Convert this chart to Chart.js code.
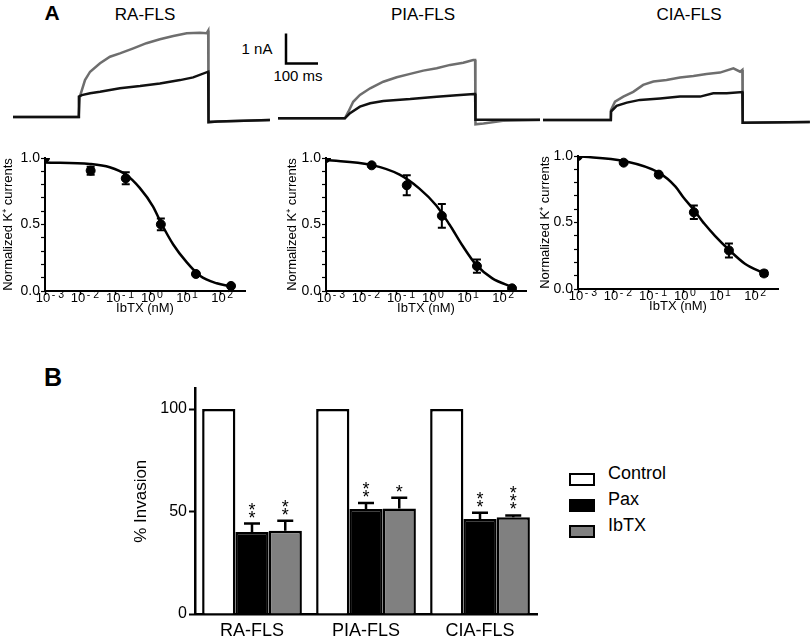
<!DOCTYPE html>
<html>
<head>
<meta charset="utf-8">
<script src="https://cdn.jsdelivr.net/npm/chart.js@4.4.1/dist/chart.umd.min.js"></script>
<style>
  body { margin: 0; background: #fff; }
  #wrap { position: relative; width: 810px; height: 637px; overflow: hidden; font-family: "Liberation Sans", Arial, sans-serif; color: #000; }
  canvas { position: absolute; }
  .lbl { position: absolute; white-space: nowrap; line-height: 1; transform: translate(-50%, -50%); }
  .leg { position: absolute; left: 569px; font-size: 18px; }
  .leg span.box { position: absolute; left: 0; width: 22px; height: 9px; border: 2.5px solid #000; }
  .leg span.txt { position: absolute; left: 39px; top: -9px; line-height: 18px; }
</style>
</head>
<body>
<div id="wrap">
  <div class="lbl" style="left:52px;top:12px;font-weight:bold;font-size:21px">A</div>
  <div class="lbl" style="left:145px;top:14px;font-size:17px">RA-FLS</div>
  <div class="lbl" style="left:423px;top:14px;font-size:17px">PIA-FLS</div>
  <div class="lbl" style="left:689px;top:14px;font-size:17px">CIA-FLS</div>
  <div class="lbl" style="left:257px;top:48px;font-size:15px">1 nA</div>
  <div class="lbl" style="left:298px;top:75px;font-size:15px">100 ms</div>
  <div class="lbl" style="left:53px;top:377px;font-weight:bold;font-size:25px">B</div>

  <canvas id="trace1" width="272" height="135" style="left:0;top:0"></canvas>
  <canvas id="trace2" width="268" height="135" style="left:272px;top:0"></canvas>
  <canvas id="trace3" width="270" height="135" style="left:540px;top:0"></canvas>

  <canvas id="dose1" width="265" height="180" style="left:0;top:140px"></canvas>
  <canvas id="dose2" width="265" height="180" style="left:281px;top:140px"></canvas>
  <canvas id="dose3" width="265" height="180" style="left:533px;top:138px"></canvas>

  <canvas id="bars" width="420" height="267" style="left:124px;top:370px"></canvas>
  <div id="legend"></div>
</div>

<script>
// ---- datos: trazos de corriente (ms, nA) ----
const raCtrlT = [0, 205, 209, 225, 241, 272, 303, 334, 376, 417, 459, 501, 543, 584, 605, 610, 611, 640, 803];
const raCtrlI = [0, 0, 0.68, 1.23, 1.51, 1.79, 2.01, 2.12, 2.29, 2.46, 2.59, 2.70, 2.79, 2.81, 2.79, 2.88, -0.17, -0.15, -0.1];
const raIbtxT = [0, 205, 206, 215, 241, 272, 334, 397, 459, 522, 563, 610, 611, 640, 803];
const raIbtxI = [0, 0, 0.68, 0.73, 0.79, 0.84, 0.96, 1.03, 1.12, 1.23, 1.32, 1.51, -0.17, -0.15, -0.1];

const piaCtrlT = [0, 209, 220, 235, 256, 288, 329, 371, 413, 454, 496, 538, 579, 610, 616, 617, 642, 703, 819];
const piaCtrlI = [0, 0, 0.22, 0.55, 0.78, 1.0, 1.22, 1.37, 1.48, 1.59, 1.67, 1.78, 1.85, 1.94, 1.94, -0.2, -0.17, -0.08, -0.06];
const piaIbtxT = [0, 209, 225, 256, 288, 329, 413, 496, 558, 613, 616, 617, 819];
const piaIbtxI = [0, 0, 0.17, 0.39, 0.5, 0.58, 0.64, 0.72, 0.77, 0.81, 0.81, -0.05, -0.05];

const ciaCtrlT = [0, 212, 212.5, 225, 251, 282, 313, 345, 386, 428, 470, 511, 553, 595, 616, 623, 624, 834];
const ciaCtrlI = [0, 0, 0.33, 0.61, 0.78, 0.94, 1.17, 1.28, 1.33, 1.42, 1.47, 1.53, 1.58, 1.72, 1.61, 1.67, -0.09, -0.07];
const ciaIbtxT = [0, 212, 212.5, 230, 262, 303, 366, 428, 491, 532, 574, 623, 624, 834];
const ciaIbtxI = [0, 0, 0.28, 0.47, 0.58, 0.67, 0.72, 0.78, 0.78, 0.89, 0.89, 0.93, -0.09, -0.07];

// barra de escala
const scaleBarNA = 1;
const scaleBarMs = 100;

// ---- datos: curvas dosis-respuesta IbTX (nM) ----
const conc = [0.001, 0.02, 0.2, 2, 20, 200];
const raMean = [1.0, 0.905, 0.847, 0.501, 0.128, 0.038];
const raSem = [0, 0.03, 0.045, 0.044, 0.01, 0.008];
const piaMean = [1.0, 0.945, 0.795, 0.565, 0.1875, 0.02];
const piaSem = [0, 0.008, 0.075, 0.09, 0.05, 0.01];
const ciaMean = [1.0, 0.95, 0.86, 0.577, 0.29, 0.117];
const ciaSem = [0, 0.01, 0.01, 0.05, 0.053, 0.02];

const raFitX = [0.001, 0.019, 0.07, 0.21, 0.5, 1.2, 2, 4.5, 11, 26, 78, 200];
const raFitY = [0.967, 0.955, 0.93, 0.872, 0.775, 0.635, 0.515, 0.35, 0.215, 0.115, 0.058, 0.035];
const piaFitX = [0.001, 0.018, 0.125, 0.46, 1.37, 3.3, 7.8, 18.6, 55, 200];
const piaFitY = [0.985, 0.95, 0.875, 0.77, 0.645, 0.5, 0.34, 0.2, 0.095, 0.03];
const ciaFitX = [0.001, 0.02, 0.2, 0.6, 1.0, 2, 4, 8, 20, 57, 200];
const ciaFitY = [0.998, 0.963, 0.875, 0.77, 0.69, 0.595, 0.49, 0.40, 0.295, 0.19, 0.118];

const decades = [-3, -2, -1, 0, 1, 2];

// ---- datos: invasion ----
const groups = ["RA-FLS", "PIA-FLS", "CIA-FLS"];
const control = [100, 100, 100];
const pax = [40, 51.2, 46.3];
const paxErr = [4.1, 2.9, 3.1];
const ibtx = [40.6, 51.5, 47.2];
const ibtxErr = [4.9, 5.2, 0.9];
const paxStars = ["**", "**", "**"];
const ibtxStars = ["**", "*", "***"];

Chart.defaults.font.family = "'Liberation Sans', Arial, sans-serif";
Chart.defaults.color = "#000";

const pts = (xs, ys) => xs.map((x, i) => ({ x: x, y: ys[i] }));

// ---------- trazos ----------
const pxPerMs = 0.32;
const pxPerNA = 30;

const creaTrazo = (id, width, t0px, basePx, datasets) => {
  new Chart(document.getElementById(id), {
    type: "line",
    data: { datasets: datasets },
    options: {
      responsive: false,
      animation: false,
      layout: { padding: 0 },
      plugins: { legend: { display: false }, tooltip: { enabled: false } },
      elements: { point: { radius: 0 }, line: { tension: 0 } },
      scales: {
        x: { type: "linear", display: false, min: -t0px / pxPerMs, max: (width - t0px) / pxPerMs },
        y: { type: "linear", display: false, min: -(135 - basePx) / pxPerNA, max: basePx / pxPerNA },
      },
    },
  });
};

const traza = (t, i, color, w) => ({
  data: pts(t, i), borderColor: color, borderWidth: w, fill: false,
});

creaTrazo("trace1", 272, 13, 117, [
  traza(raIbtxT, raIbtxI, "#111", 2.5),
  traza(raCtrlT, raCtrlI, "#6e6e6e", 2.5),
]);
creaTrazo("trace2", 268, 6, 118.3, [
  traza(piaIbtxT, piaIbtxI, "#111", 2.5),
  traza(piaCtrlT, piaCtrlI, "#6e6e6e", 2.5),
  {
    // barra de escala 1 nA / 100 ms
    data: [{ x: 25, y: 1.83 + scaleBarNA }, { x: 25, y: 1.83 }, { x: 25 + scaleBarMs, y: 1.83 }],
    borderColor: "#000", borderWidth: 2.5, fill: false,
  },
]);
creaTrazo("trace3", 270, 3, 120, [
  traza(ciaIbtxT, ciaIbtxI, "#111", 2.5),
  traza(ciaCtrlT, ciaCtrlI, "#6e6e6e", 2.5),
]);

// ---------- barras de error ----------
const errorBars = {
  id: "errorBars",
  afterDatasetsDraw(chart) {
    const ctx = chart.ctx;
    const ys = chart.scales.y;
    chart.data.datasets.forEach((ds, i) => {
      if (!ds.errors) return;
      const meta = chart.getDatasetMeta(i);
      meta.data.forEach((el, j) => {
        const e = ds.errors[j];
        if (!e) return;
        const raw = ds.data[j];
        const v = typeof raw === "object" ? raw.y : raw;
        const top = ys.getPixelForValue(v + e);
        const bot = ds.upOnly ? el.y : ys.getPixelForValue(v - e);
        const cap = ds.capHalf || 4;
        ctx.save();
        ctx.strokeStyle = "#000";
        ctx.lineWidth = ds.errWidth || 2;
        ctx.beginPath();
        ctx.moveTo(el.x, bot); ctx.lineTo(el.x, top);
        ctx.moveTo(el.x - cap, top); ctx.lineTo(el.x + cap, top);
        if (!ds.upOnly) { ctx.moveTo(el.x - cap, bot); ctx.lineTo(el.x + cap, bot); }
        ctx.stroke();
        if (ds.stars) {
          ctx.fillStyle = "#000";
          ctx.font = "18px 'Liberation Sans'";
          ctx.textAlign = "center";
          ctx.textBaseline = "alphabetic";
          const n = ds.stars[j].length;
          for (let k = 0; k < n; k++) {
            ctx.fillText("*", el.x, top - k * 8);
          }
        }
        ctx.restore();
      });
    });
  },
};

// etiquetas 10^n del eje log
const potencias = {
  id: "potencias",
  afterDraw(chart) {
    const ctx = chart.ctx;
    const xs = chart.scales.x;
    ctx.save();
    ctx.fillStyle = "#000";
    ctx.textBaseline = "alphabetic";
    decades.forEach((d) => {
      const px = xs.getPixelForValue(Math.pow(10, d)) - 2;
      const y = xs.top + 11;
      ctx.font = "13px 'Liberation Sans'";
      ctx.textAlign = "center";
      ctx.fillText("10", px, y);
      const w = ctx.measureText("10").width;
      ctx.font = "10.5px 'Liberation Sans'";
      ctx.textAlign = "left";
      ctx.fillText(d < 0 ? "- " + (-d) : String(d), px + w / 2 + 1.5, y - 4.5);
    });
    ctx.restore();
  },
};

// ---------- dosis-respuesta ----------
const creaDosis = (id, mean, sem, fitX, fitY, titlePad) => {
  new Chart(document.getElementById(id), {
    type: "scatter",
    data: {
      datasets: [
        {
          data: pts(conc, mean), errors: sem, capHalf: 4,
          backgroundColor: "#000", borderColor: "#000", pointRadius: 4.5, showLine: false,
        },
        {
          data: pts(fitX, fitY), showLine: true, pointRadius: 0,
          borderColor: "#000", borderWidth: 2.5, cubicInterpolationMode: "monotone",
        },
      ],
    },
    options: {
      responsive: false,
      animation: false,
      layout: { padding: { top: 18, right: 20, bottom: 4, left: 0 } },
      plugins: { legend: { display: false }, tooltip: { enabled: false } },
      scales: {
        x: {
          type: "logarithmic", min: 0.001, max: 500,
          afterBuildTicks: (s) => { s.ticks = decades.map((d) => ({ value: Math.pow(10, d) })); },
          afterFit: (s) => { s.height = 25; },
          ticks: { callback: () => "", autoSkip: false },
          grid: { drawOnChartArea: false, tickLength: 4, tickColor: "#000", tickWidth: 1.5 },
          border: { color: "#000", width: 2 },
          title: { display: true, text: "IbTX (nM)", font: { size: 13 }, padding: 0 },
        },
        y: {
          min: 0, max: 1,
          ticks: {
            stepSize: 0.1, padding: 1, font: { size: 14 }, autoSkip: false,
            callback: (v) => (Math.abs(v * 2 - Math.round(v * 2)) < 1e-6 ? v.toFixed(1) : ""),
          },
          afterFit: (s) => { s.width = 45; },
          grid: { drawOnChartArea: false, tickLength: 4, tickColor: "#000", tickWidth: 1.2 },
          border: { color: "#000", width: 2 },
          title: { display: true, text: "Normalized K\u207A currents", font: { size: 13 }, padding: { top: titlePad, bottom: 0 } },
        },
      },
    },
    plugins: [errorBars, potencias],
  });
};

creaDosis("dose1", raMean, raSem, raFitX, raFitY, 1);
creaDosis("dose2", piaMean, piaSem, piaFitX, piaFitY, 4);
creaDosis("dose3", ciaMean, ciaSem, ciaFitX, ciaFitY, 5);

// ---------- invasion ----------
const barChart = new Chart(document.getElementById("bars"), {
  type: "bar",
  data: {
    labels: groups,
    datasets: [
      { label: "Control", data: control, backgroundColor: "#fff" },
      { label: "Pax", data: pax, backgroundColor: "#000", errors: paxErr, stars: paxStars, upOnly: true, capHalf: 8, errWidth: 2.5 },
      { label: "IbTX", data: ibtx, backgroundColor: "#808080", errors: ibtxErr, stars: ibtxStars, upOnly: true, capHalf: 8, errWidth: 2.5 },
    ],
  },
  options: {
    responsive: false,
    animation: false,
    layout: { padding: { top: 18.5, right: 7, bottom: 0, left: 0 } },
    plugins: { legend: { display: false }, tooltip: { enabled: false } },
    datasets: {
      bar: { borderColor: "#000", borderWidth: 2.5, categoryPercentage: 0.875, barPercentage: 1 },
    },
    scales: {
      x: {
        grid: { display: false, drawTicks: false },
        border: { color: "#000", width: 2.5 },
        ticks: { font: { size: 18 }, padding: 6 },
        afterFit: (s) => { s.height = 23; },
      },
      y: {
        min: 0, max: 110,
        afterBuildTicks: (s) => { s.ticks = [0, 50, 100].map((v) => ({ value: v })); },
        afterFit: (s) => { s.width = 71; },
        ticks: { font: { size: 16 }, padding: 2 },
        grid: { drawOnChartArea: false, tickLength: 6, tickColor: "#000", tickWidth: 2 },
        border: { color: "#000", width: 2.5 },
        title: { display: true, text: "% Invasion", font: { size: 17 }, padding: { top: 7, bottom: 0 } },
      },
    },
  },
  plugins: [errorBars],
});

// leyenda
const legend = document.getElementById("legend");
barChart.data.datasets.forEach((ds, i) => {
  const item = document.createElement("div");
  item.className = "leg";
  item.style.top = 473 + i * 26 + "px";
  item.innerHTML = '<span class="box" style="background:' + ds.backgroundColor + '"></span><span class="txt">' + ds.label + "</span>";
  legend.appendChild(item);
});
</script>
</body>
</html>
